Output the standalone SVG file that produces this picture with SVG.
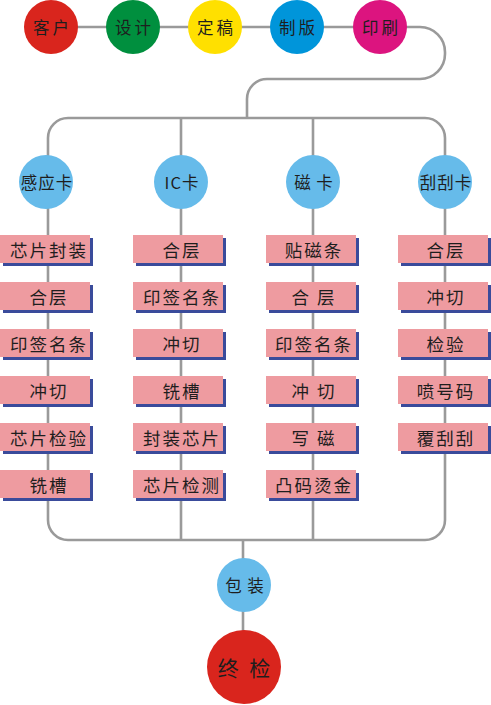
<svg xmlns="http://www.w3.org/2000/svg" width="491" height="705" viewBox="0 0 491 705">
<style>
.ln{fill:none;stroke:#9A9A9A;stroke-width:2.6}
.bx{fill:#EE9BA0}
.sh{fill:#3A4B9B}
.t{font-family:"Noto Sans CJK SC","Noto Sans CJK JP",sans-serif;fill:#1E1E1E;text-anchor:middle;dominant-baseline:central}
.bt{font-size:17.5px;letter-spacing:2px}
.ct{font-size:16.5px;letter-spacing:1px}
.tt{font-size:16.5px;letter-spacing:3px}
.lb{fill:#66BBEA}
</style>
<rect width="491" height="705" fill="#FFFFFF"/>
<g id="connectors">
<path class="ln" d="M51,27 H407 H420 A25,25 0 0 1 445,52 V54 A25,25 0 0 1 420,79 H267 A20,20 0 0 0 247,99 V118"/>
<path class="ln" d="M48,160 V138 A20,20 0 0 1 68,118 H425 A20,20 0 0 1 445,138 V160"/>
<path class="ln" d="M181,118 V160 M313,118 V160"/>
<path class="ln" d="M48,200 V520 A20,20 0 0 0 68,540 H425 A20,20 0 0 0 445,520 V200"/>
<path class="ln" d="M181,200 V540 M313,200 V540"/>
<path class="ln" d="M243,540 V640"/>
</g>
<g id="n-kehu"><circle cx="51" cy="27" r="27" fill="#D9251D"/><text class="t tt" x="52.5" y="27">客户</text></g>
<g id="n-sheji"><circle cx="133" cy="27" r="27" fill="#008F3E"/><text class="t tt" x="134.5" y="27">设计</text></g>
<g id="n-dinggao"><circle cx="215" cy="27" r="27" fill="#FFE000"/><text class="t tt" x="216.5" y="27">定稿</text></g>
<g id="n-zhiban"><circle cx="297" cy="27" r="27" fill="#0095DA"/><text class="t tt" x="298.5" y="27">制版</text></g>
<g id="n-yinshua"><circle cx="380" cy="27" r="27" fill="#DC147F"/><text class="t tt" x="381.5" y="27">印刷</text></g>

<g id="n-ganying"><circle class="lb" cx="46" cy="182" r="27"/><text class="t ct" x="47" y="182">感应卡</text></g>
<g id="n-ic"><circle class="lb" cx="181" cy="182" r="27"/><text class="t ct" x="182" y="182" letter-spacing="3">IC卡</text></g>
<g id="n-ci"><circle class="lb" cx="313" cy="182" r="27"/><text class="t ct" x="314" y="182">磁 卡</text></g>
<g id="n-guagua"><circle class="lb" cx="445" cy="182" r="27"/><text class="t ct" x="446" y="182">刮刮卡</text></g>

<g id="col1">
<g id="b1-1"><rect class="sh" x="3" y="238" width="90" height="28"/><rect class="bx" x="0" y="235" width="90" height="28"/><text class="t bt" x="49" y="249.5">芯片封装</text></g>
<g id="b1-2"><rect class="sh" x="3" y="285" width="90" height="28"/><rect class="bx" x="0" y="282" width="90" height="28"/><text class="t bt" x="49" y="296.5">合层</text></g>
<g id="b1-3"><rect class="sh" x="3" y="332" width="90" height="28"/><rect class="bx" x="0" y="329" width="90" height="28"/><text class="t bt" x="49" y="343.5">印签名条</text></g>
<g id="b1-4"><rect class="sh" x="3" y="379" width="90" height="28"/><rect class="bx" x="0" y="376" width="90" height="28"/><text class="t bt" x="49" y="390.5">冲切</text></g>
<g id="b1-5"><rect class="sh" x="3" y="426" width="90" height="28"/><rect class="bx" x="0" y="423" width="90" height="28"/><text class="t bt" x="49" y="437.5">芯片检验</text></g>
<g id="b1-6"><rect class="sh" x="3" y="473" width="90" height="28"/><rect class="bx" x="0" y="470" width="90" height="28"/><text class="t bt" x="49" y="484.5">铣槽</text></g>
</g>
<g id="col2">
<g id="b2-1"><rect class="sh" x="136" y="238" width="90" height="28"/><rect class="bx" x="133" y="235" width="90" height="28"/><text class="t bt" x="182" y="249.5">合层</text></g>
<g id="b2-2"><rect class="sh" x="136" y="285" width="90" height="28"/><rect class="bx" x="133" y="282" width="90" height="28"/><text class="t bt" x="182" y="296.5">印签名条</text></g>
<g id="b2-3"><rect class="sh" x="136" y="332" width="90" height="28"/><rect class="bx" x="133" y="329" width="90" height="28"/><text class="t bt" x="182" y="343.5">冲切</text></g>
<g id="b2-4"><rect class="sh" x="136" y="379" width="90" height="28"/><rect class="bx" x="133" y="376" width="90" height="28"/><text class="t bt" x="182" y="390.5">铣槽</text></g>
<g id="b2-5"><rect class="sh" x="136" y="426" width="90" height="28"/><rect class="bx" x="133" y="423" width="90" height="28"/><text class="t bt" x="182" y="437.5">封装芯片</text></g>
<g id="b2-6"><rect class="sh" x="136" y="473" width="90" height="28"/><rect class="bx" x="133" y="470" width="90" height="28"/><text class="t bt" x="182" y="484.5">芯片检测</text></g>
</g>
<g id="col3">
<g id="b3-1"><rect class="sh" x="269" y="238" width="90" height="28"/><rect class="bx" x="266" y="235" width="90" height="28"/><text class="t bt" x="314" y="249.5">贴磁条</text></g>
<g id="b3-2"><rect class="sh" x="269" y="285" width="90" height="28"/><rect class="bx" x="266" y="282" width="90" height="28"/><text class="t bt" x="314" y="296.5">合 层</text></g>
<g id="b3-3"><rect class="sh" x="269" y="332" width="90" height="28"/><rect class="bx" x="266" y="329" width="90" height="28"/><text class="t bt" x="314" y="343.5">印签名条</text></g>
<g id="b3-4"><rect class="sh" x="269" y="379" width="90" height="28"/><rect class="bx" x="266" y="376" width="90" height="28"/><text class="t bt" x="314" y="390.5">冲 切</text></g>
<g id="b3-5"><rect class="sh" x="269" y="426" width="90" height="28"/><rect class="bx" x="266" y="423" width="90" height="28"/><text class="t bt" x="314" y="437.5">写 磁</text></g>
<g id="b3-6"><rect class="sh" x="269" y="473" width="90" height="28"/><rect class="bx" x="266" y="470" width="90" height="28"/><text class="t bt" x="314" y="484.5">凸码烫金</text></g>
</g>
<g id="col4">
<g id="b4-1"><rect class="sh" x="401" y="238" width="90" height="28"/><rect class="bx" x="398" y="235" width="90" height="28"/><text class="t bt" x="446" y="249.5">合层</text></g>
<g id="b4-2"><rect class="sh" x="401" y="285" width="90" height="28"/><rect class="bx" x="398" y="282" width="90" height="28"/><text class="t bt" x="446" y="296.5">冲切</text></g>
<g id="b4-3"><rect class="sh" x="401" y="332" width="90" height="28"/><rect class="bx" x="398" y="329" width="90" height="28"/><text class="t bt" x="446" y="343.5">检验</text></g>
<g id="b4-4"><rect class="sh" x="401" y="379" width="90" height="28"/><rect class="bx" x="398" y="376" width="90" height="28"/><text class="t bt" x="446" y="390.5">喷号码</text></g>
<g id="b4-5"><rect class="sh" x="401" y="426" width="90" height="28"/><rect class="bx" x="398" y="423" width="90" height="28"/><text class="t bt" x="446" y="437.5">覆刮刮</text></g>
</g>

<g id="n-baozhuang"><circle class="lb" cx="244" cy="585" r="27"/><text class="t ct" x="245" y="585" letter-spacing="2">包 装</text></g>
<g id="n-zhongjian"><circle cx="244" cy="667" r="37" fill="#D9251D"/><text class="t" x="245.5" y="667" font-size="21" letter-spacing="3">终 检</text></g>
</svg>
